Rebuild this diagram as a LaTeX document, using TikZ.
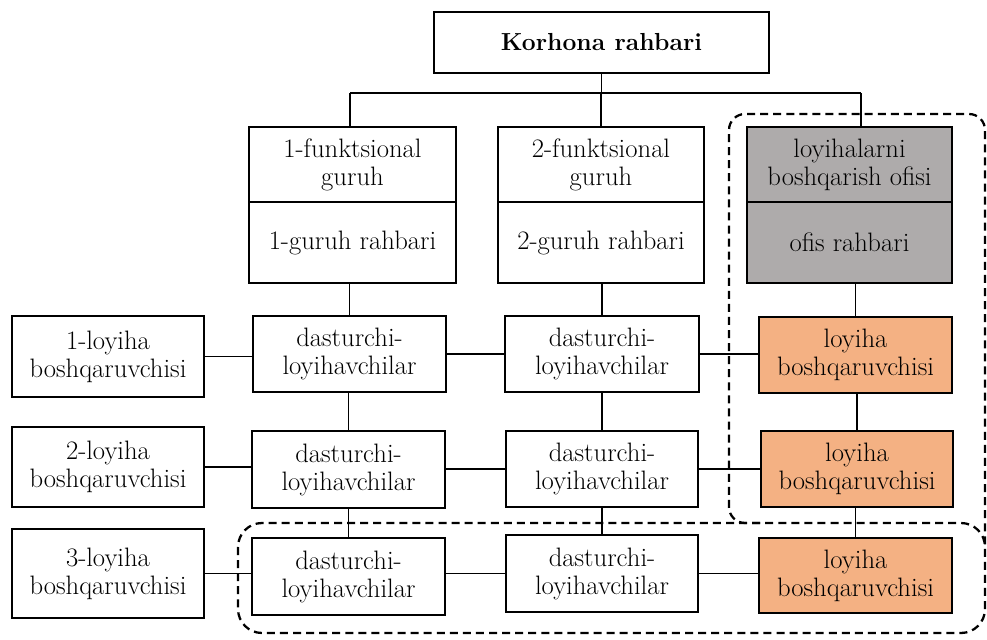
\documentclass[tikz,border=0pt]{standalone}
\definecolor{officegray}{RGB}{174,171,171}
\definecolor{pmorange}{RGB}{244,177,131}
\tikzset{
  box/.style={draw, line width=1.4pt, align=center, inner sep=0pt,
    font=\fontsize{20}{21}\selectfont},
  conn/.style={line width=1.4pt},
  region/.style={line width=1.7pt, dash pattern=on 6pt off 3.8pt},
  grayfill/.style={fill=officegray},
  orangefill/.style={fill=pmorange}
}
\begin{document}
\begin{tikzpicture}[x=0.75pt,y=-0.75pt]
\useasboundingbox (0,0) rectangle (987,639);

% dashed regions
\draw[region, rounded corners=12pt] (760,523) -- (729,523) -- (729,114) -- (985,114) -- (985,545);
\draw[region, rounded corners=18pt] (238,523) rectangle (985,633);

% top
\node[box, minimum width=251.25pt, minimum height=45.75pt, font=\fontsize{18.5}{22}\selectfont\bfseries] (top) at (601.5,42.5) {Korhona rahbari};

% functional groups
\node[box, minimum width=155.25pt, minimum height=56.25pt] (g1a) at (352.5,164.5) {1-funktsional\\guruh};
\node[box, minimum width=155.25pt, minimum height=60.75pt] (g1b) at (352.5,242.5) {1-guruh rahbari};
\node[box, minimum width=154.5pt, minimum height=56.25pt] (g2a) at (601,164.5) {2-funktsional\\guruh};
\node[box, minimum width=154.5pt, minimum height=60.75pt] (g2b) at (601,242.5) {2-guruh rahbari};
\node[box, grayfill, minimum width=153.75pt, minimum height=56.25pt] (offa) at (849.5,164.5) {loyihalarni\\boshqarish ofisi};
\node[box, grayfill, minimum width=153.75pt, minimum height=60.75pt] (offb) at (849.5,242.5) {ofis rahbari};

% row 1
\node[box, minimum width=144pt, minimum height=60.75pt] (l1) at (108,356.5) {1-loyiha\\boshqaruvchisi};
\node[box, minimum width=144.75pt, minimum height=57pt] (d11) at (349.5,354) {dasturchi-\\loyihavchilar};
\node[box, minimum width=145.5pt, minimum height=57pt] (d12) at (602,354) {dasturchi-\\loyihavchilar};
\node[box, orangefill, minimum width=144.75pt, minimum height=57pt] (o1) at (855.5,355) {loyiha\\boshqaruvchisi};

% row 2
\node[box, minimum width=144pt, minimum height=60pt] (l2) at (108,467) {2-loyiha\\boshqaruvchisi};
\node[box, minimum width=144.75pt, minimum height=57.75pt] (d21) at (348.5,469.5) {dasturchi-\\loyihavchilar};
\node[box, minimum width=144pt, minimum height=57pt] (d22) at (602,469) {dasturchi-\\loyihavchilar};
\node[box, orangefill, minimum width=144pt, minimum height=57pt] (o2) at (857,469) {loyiha\\boshqaruvchisi};

% row 3
\node[box, minimum width=144pt, minimum height=66.75pt] (l3) at (108,573.5) {3-loyiha\\boshqaruvchisi};
\node[box, minimum width=144.75pt, minimum height=57.75pt] (d31) at (348.5,576.5) {dasturchi-\\loyihavchilar};
\node[box, minimum width=144pt, minimum height=57.75pt] (d32) at (602,573.5) {dasturchi-\\loyihavchilar};
\node[box, orangefill, minimum width=144.75pt, minimum height=56.25pt] (o3) at (855.5,575.5) {loyiha\\boshqaruvchisi};

% bus
\coordinate (busL) at (350,93);
\coordinate (busR) at (861,93);
\draw[conn] (top.south) -- (top.south |- busL);
\draw[conn] (busL) -- (busR);
\draw[conn] (busL) -- (busL |- g1a.north);
\draw[conn] (g2a.north) -- (g2a.north |- busL);
\draw[conn] (busR) -- (busR |- offa.north);

% verticals
\draw[conn] (d11.north) -- (d11.north |- g1b.south);
\draw[conn] (d12.north) -- (d12.north |- g2b.south);
\draw[conn] (o1.north) -- (o1.north |- offb.south);
\draw[conn] (d21.north) -- (d21.north |- d11.south);
\draw[conn] (d22.north) -- (d22.north |- d12.south);
\draw[conn] (o2.north) -- (o2.north |- o1.south);
\draw[conn] (d31.north) -- (d31.north |- d21.south);
\draw[conn] (d32.north) -- (d32.north |- d22.south);
\draw[conn] (o3.north) -- (o3.north |- o2.south);

% horizontals
\draw[conn] (l1.east) -- (l1.east -| d11.west);
\draw[conn] (d11.east) -- (d11.east -| d12.west);
\draw[conn] (d12.east) -- (d12.east -| o1.west);
\draw[conn] (l2.east) -- (l2.east -| d21.west);
\draw[conn] (d22.west -| d21.east) -- (d22.west);
\draw[conn] (d22.east) -- (d22.east -| o2.west);
\draw[conn] (l3.east) -- (l3.east -| d31.west);
\draw[conn] (d32.west -| d31.east) -- (d32.west);
\draw[conn] (d32.east) -- (d32.east -| o3.west);
\end{tikzpicture}
\end{document}
